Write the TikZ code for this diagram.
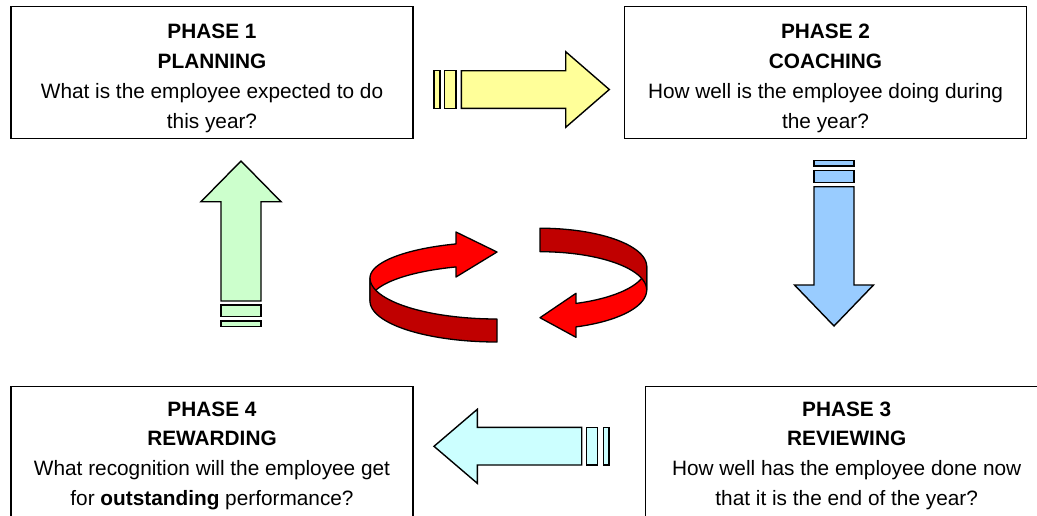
\documentclass[tikz,border=0pt]{standalone}
\usepackage{fontspec}
\setmainfont{Liberation Sans}
\definecolor{yel}{HTML}{FFFF99}
\definecolor{blu}{HTML}{99CCFF}
\definecolor{grn}{HTML}{CCFFCC}
\definecolor{cyn}{HTML}{CCFFFF}
\definecolor{redb}{HTML}{FF0000}
\definecolor{redd}{HTML}{C00000}
\begin{document}
\begin{tikzpicture}[x=1pt,y=-1pt,
  box/.style={draw=black, line width=1.3pt, fill=white, inner sep=0pt},
  hd/.style={anchor=base, font=\fontsize{20.8}{25}\selectfont\bfseries, inner sep=0pt},
  tx/.style={anchor=base, font=\fontsize{20.8}{25}\selectfont, inner sep=0pt},
  arr/.style={draw=black, line width=1.4pt, line join=miter},
  rib/.style={draw=black, line width=1.3pt, line join=round}]
\useasboundingbox (0,0) rectangle (1037,515);
\clip (0,0) rectangle (1037,515);
\fill[white] (0,0) rectangle (1037,515);

% boxes
\node[box, minimum width=402pt, minimum height=131.6pt] (b1) at (212,72.5) {};
\node[box, minimum width=402pt, minimum height=131.6pt] (b2) at (825.5,72.5) {};
\node[box, minimum width=402pt, minimum height=150pt] (b3) at (846.7,461.7) {};
\node[box, minimum width=402pt, minimum height=150pt] (b4) at (212,461.7) {};

% texts
\node[hd] (b1l1) at (212,38.9) {PHASE 1};
\node[hd] (b1l2) at (212,68.6) {PLANNING};
\node[tx] (b1l3) at (212,98.3) {What is the employee expected to do};
\node[tx] (b1l4) at (212,128) {this year?};

\node[hd] (b2l1) at (825.5,38.9) {PHASE 2};
\node[hd] (b2l2) at (825.5,68.6) {COACHING};
\node[tx] (b2l3) at (825.5,98.3) {How well is the employee doing during};
\node[tx] (b2l4) at (825.5,128) {the year?};

\node[hd] (b3l1) at (846.7,416.2) {PHASE 3};
\node[hd] (b3l2) at (846.7,445.9) {REVIEWING};
\node[tx] (b3l3) at (846.7,475.6) {How well has the employee done now};
\node[tx] (b3l4) at (846.7,505.3) {that it is the end of the year?};

\node[hd] (b4l1) at (212,416.2) {PHASE 4};
\node[hd] (b4l2) at (212,445.9) {REWARDING};
\node[tx] (b4l3) at (212,475.6) {What recognition will the employee get};
\node[tx] (b4l4) at (212,505.3) {for \textbf{outstanding} performance?};

% yellow arrow (1 -> 2)
\draw[arr, fill=yel] (434,70.7) rectangle (440,108.3);
\draw[arr, fill=yel] (444.7,70.7) rectangle (456,108.3);
\draw[arr, fill=yel] (461.3,70.7) -- (565.7,70.7) -- (565.7,51.7) -- (609.3,89.5)
  -- (565.7,127.3) -- (565.7,108.3) -- (461.3,108.3) -- cycle;

% blue arrow (2 -> 3)
\draw[arr, fill=blu] (814,160.7) rectangle (854,166);
\draw[arr, fill=blu] (814,170.7) rectangle (854,182.3);
\draw[arr, fill=blu] (814,186.7) -- (814,285) -- (794.5,285) -- (834,326)
  -- (873.5,285) -- (854,285) -- (854,186.7) -- cycle;

% cyan arrow (3 -> 4)
\draw[arr, fill=cyn] (586.7,427.3) rectangle (597.7,465);
\draw[arr, fill=cyn] (603.3,427.3) rectangle (609,465);
\draw[arr, fill=cyn] (581.7,427.3) -- (477.3,427.3) -- (477.3,409.3) -- (434,446.3)
  -- (477.3,483.3) -- (477.3,465) -- (581.7,465) -- cycle;

% green arrow (4 -> 1)
\draw[arr, fill=grn] (221,305) rectangle (261,316.7);
\draw[arr, fill=grn] (221,321) rectangle (261,326.7);
\draw[arr, fill=grn] (221,301) -- (221,201.7) -- (201,201.7) -- (241,161)
  -- (281,201.7) -- (261,201.7) -- (261,301) -- cycle;

% left ribbon: back (bright) part with head
\draw[rib, fill=redb] (456,243.9) -- (456,232) -- (497,252) -- (456,277) -- (456,266.9)
  -- plot[domain=108.8:180, samples=30] ({497+127*cos(\x)}, {278-36*sin(\x)+23})
  -- (370,278)
  -- plot[domain=180:108.8, samples=30] ({497+127*cos(\x)}, {278-36*sin(\x)}) -- cycle;
% left ribbon: front (dark) part
\draw[rib, fill=redd] plot[domain=180:270, samples=40] ({497+127*cos(\x)}, {278-41*sin(\x)})
  -- (497,342)
  -- plot[domain=270:180, samples=40] ({497+127*cos(\x)}, {278-41*sin(\x)+23}) -- cycle;

% right ribbon: bottom (bright) part with head
\draw[rib, fill=redb] (646.7,290)
  -- plot[domain=360:289.7, samples=30] ({540+106.7*cos(\x)}, {290-39.2*sin(\x)})
  -- (576,337.3) -- (540,317.7) -- (576,293.3)
  -- plot[domain=289.7:360, samples=30] ({540+106.7*cos(\x)}, {290-39.2*sin(\x)-23.5}) -- cycle;
% right ribbon: top (dark) part
\draw[rib, fill=redd] (540,251.7) -- (540,228.2)
  -- plot[domain=90:0, samples=40] ({540+106.7*cos(\x)}, {290-38.3*sin(\x)-23.5})
  -- (646.7,290)
  -- plot[domain=0:90, samples=40] ({540+106.7*cos(\x)}, {290-38.3*sin(\x)}) -- cycle;
\end{tikzpicture}
\end{document}
